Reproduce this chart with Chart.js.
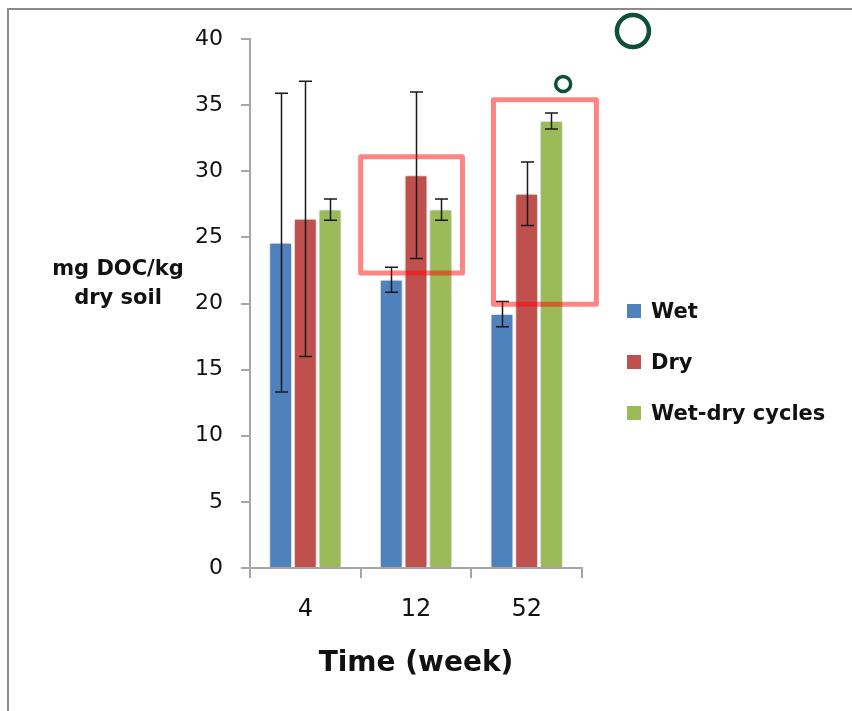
<!DOCTYPE html>
<html>
<head>
<meta charset="utf-8">
<script src="https://cdn.jsdelivr.net/npm/chart.js@4"></script>
<style>
  html, body { margin: 0; padding: 0; background: #fff; overflow: hidden; }
  #wrap { position: relative; width: 852px; height: 711px; }
  #frame {
    position: absolute; left: 7px; top: 8px; width: 900px; height: 760px;
    border: 2px solid #8a8a8a; box-sizing: border-box;
  }
  canvas { position: absolute; left: 0; top: 0; }
  .ylabel {
    position: absolute; left: 40px; width: 156px; text-align: center;
    font: bold 21px "DejaVu Sans", sans-serif; color: #111; line-height: 29px;
    top: 254px;
  }
  .xlabel {
    position: absolute; left: 250px; width: 332px; text-align: center;
    font: bold 28px "DejaVu Sans", sans-serif; color: #111; top: 645px;
  }
  #legend { position: absolute; left: 627px; top: 297px; }
  .leg-item {
    display: flex; align-items: center; height: 28px; margin-bottom: 23px;
    font: bold 21px "DejaVu Sans", sans-serif; color: #111;
  }
  .leg-box { width: 14px; height: 14px; margin-right: 10px; }
</style>
</head>
<body>
<div id="wrap">
  <div id="frame"></div>
  <canvas id="chart" width="852" height="711"></canvas>
  <div class="ylabel">mg DOC/kg<br>dry soil</div>
  <div class="xlabel">Time (week)</div>
  <div id="legend"></div>
</div>

<script>
// ── Data ──────────────────────────────────────────────────────
const weeks      = ['4', '12', '52'];
const seriesName = ['Wet', 'Dry', 'Wet-dry cycles'];

const wetValues    = [24.6, 21.8, 19.2];
const dryValues    = [26.4, 29.7, 28.3];
const cycleValues  = [27.1, 27.1, 33.8];

const wetErrors    = [11.3, 0.95, 0.95];
const dryErrors    = [10.4, 6.3, 2.4];
const cycleErrors  = [0.8, 0.8, 0.6];

const yTicks = [0, 5, 10, 15, 20, 25, 30, 35, 40];

// Highlight boxes, in category index / value units: [x0, x1, yTop, yBottom]
const highlightBoxes = [
  [0.50, 1.42, 31.1, 22.3],
  [1.70, 2.63, 35.4, 19.95]
];
// Little rings: [x index, y value, radius, width]
const rings = [
  [2.96, 40.6, 16, 4.5],
  [2.33, 36.6, 7.5, 3.5]
];

const COLORS = ['#4F81BD', '#C0504D', '#9BBB59'];
const AXIS = '#A6A6A6';

const values = [wetValues, dryValues, cycleValues];
const errors = [wetErrors, dryErrors, cycleErrors];

// ── Legend (HTML) ─────────────────────────────────────────────
document.getElementById('legend').innerHTML = seriesName.map(function (name, i) {
  return '<div class="leg-item"><div class="leg-box" style="background:' +
    COLORS[i] + '"></div>' + name + '</div>';
}).join('');

// ── Plugins ───────────────────────────────────────────────────
const barShadow = {
  id: 'barShadow',
  beforeDatasetDraw: function (chart) {
    const ctx = chart.ctx;
    ctx.save();
    ctx.shadowColor = 'rgba(0,0,0,0.3)';
    ctx.shadowBlur = 6;
  },
  afterDatasetDraw: function (chart) {
    chart.ctx.restore();
  }
};

const errorBars = {
  id: 'errorBars',
  afterDatasetsDraw: function (chart) {
    const ctx = chart.ctx;
    const y = chart.scales.y;
    ctx.save();
    ctx.strokeStyle = '#1a1a1a';
    ctx.lineWidth = 1.5;
    chart.data.datasets.forEach(function (ds, di) {
      const meta = chart.getDatasetMeta(di);
      meta.data.forEach(function (bar, i) {
        const v = ds.data[i];
        const e = errors[di][i];
        const top = y.getPixelForValue(v + e);
        const bot = y.getPixelForValue(v - e);
        const x = Math.round(bar.x) + 0.5;
        ctx.beginPath();
        ctx.moveTo(x, top); ctx.lineTo(x, bot);
        ctx.moveTo(x - 6.5, top); ctx.lineTo(x + 6.5, top);
        ctx.moveTo(x - 6.5, bot); ctx.lineTo(x + 6.5, bot);
        ctx.stroke();
      });
    });
    ctx.restore();
  }
};

function xPix(chart, idx) {
  const xs = chart.scales.x;
  const p0 = xs.getPixelForValue(0);
  const p1 = xs.getPixelForValue(1);
  return p0 + (p1 - p0) * idx;
}

const annotations = {
  id: 'annotations',
  afterDraw: function (chart) {
    const ctx = chart.ctx;
    const y = chart.scales.y;
    ctx.save();
    ctx.strokeStyle = 'rgba(255,0,0,0.48)';
    ctx.lineWidth = 5;
    ctx.lineJoin = 'round';
    highlightBoxes.forEach(function (b) {
      const x0 = xPix(chart, b[0]), x1 = xPix(chart, b[1]);
      const y0 = y.getPixelForValue(b[2]), y1 = y.getPixelForValue(b[3]);
      ctx.strokeRect(x0, y0, x1 - x0, y1 - y0);
    });
    ctx.strokeStyle = '#0E4F3B';
    rings.forEach(function (r) {
      ctx.lineWidth = r[3];
      ctx.beginPath();
      ctx.arc(xPix(chart, r[0]), y.getPixelForValue(r[1]), r[2], 0, Math.PI * 2);
      ctx.stroke();
    });
    ctx.restore();
  }
};

// ── Chart ─────────────────────────────────────────────────────
new Chart(document.getElementById('chart'), {
  type: 'bar',
  data: {
    labels: weeks,
    datasets: seriesName.map(function (name, i) {
      return {
        label: name,
        data: values[i],
        backgroundColor: COLORS[i],
        borderColor: 'rgba(255,255,255,0.6)',
        borderWidth: 1,
        categoryPercentage: 0.67,
        barPercentage: 0.92
      };
    })
  },
  options: {
    responsive: false,
    animation: false,
    devicePixelRatio: 1,
    layout: { padding: { left: 0, right: 270, top: 39, bottom: 0 } },
    plugins: {
      legend: { display: false },
      tooltip: { enabled: false }
    },
    scales: {
      x: {
        afterFit: function (s) { s.height = 143; },
        grid: {
          offset: true, drawOnChartArea: false, tickLength: 10,
          color: AXIS, lineWidth: 2
        },
        border: { color: AXIS, width: 2 },
        ticks: {
          color: '#111', padding: 17,
          font: { family: 'DejaVu Sans', size: 24 }
        }
      },
      y: {
        min: 0, max: 40,
        afterFit: function (s) { s.width = 250; },
        afterBuildTicks: function (s) {
          s.ticks = yTicks.map(function (v) { return { value: v }; });
        },
        grid: {
          drawOnChartArea: false, tickLength: 9,
          color: AXIS, lineWidth: 2
        },
        border: { color: AXIS, width: 2 },
        ticks: {
          color: '#111', padding: 18,
          font: { family: 'DejaVu Sans', size: 22 }
        }
      }
    }
  },
  plugins: [barShadow, errorBars, annotations]
});
</script>
</body>
</html>
